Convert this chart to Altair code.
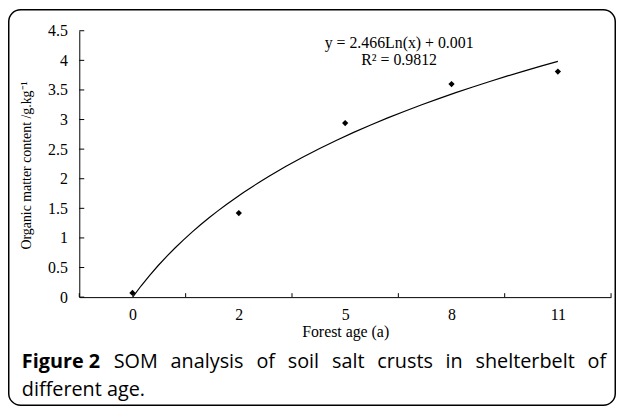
import altair as alt
import pandas as pd

# ---- data ----
ages = ["0", "2", "5", "8", "11"]          # x categories (forest age, a)
som = [0.07, 1.42, 2.94, 3.60, 3.81]       # organic matter content, g/kg
y_ticks = [0, 0.5, 1, 1.5, 2, 2.5, 3, 3.5, 4, 4.5]
equation = ["y = 2.466Ln(x) + 0.001", "R\u00b2 = 0.9812"]

idx = list(range(1, len(ages) + 1))
df = pd.DataFrame({"xi": idx, "age": ages, "som": som})
bounds = pd.DataFrame({"xi": [i + 0.5 for i in range(0, len(ages) + 1)]})
yt = pd.DataFrame({"som": y_ticks})

SERIF = "Liberation Serif"
W, H = 537, 269

label_expr = "[" + ",".join("'%s'" % a for a in ages) + "][datum.value - 1]"

xscale = alt.Scale(domain=[0.5, len(ages) + 0.5], nice=False, zero=False)
yscale = alt.Scale(domain=[0, 4.5], nice=False)

x_axis = alt.Axis(values=idx, labelExpr=label_expr, ticks=False, grid=False,
                  domainColor="black", domainWidth=1, labelFont=SERIF,
                  labelFontSize=16, labelColor="black", labelPadding=10,
                  title="Forest age (a)", titleFont=SERIF, titleFontSize=16,
                  titleFontWeight="normal", titleColor="black", titlePadding=1)
y_axis = alt.Axis(values=y_ticks, format=".1~f", ticks=False, grid=False,
                  domainColor="black", domainWidth=1, labelFont=SERIF,
                  labelFontSize=16, labelColor="black", labelPadding=12,
                  title=None)

X = alt.X("xi:Q", scale=xscale, axis=x_axis)
Y = alt.Y("som:Q", scale=yscale, axis=y_axis)

base = alt.Chart(df)

points = base.mark_point(shape="diamond", filled=True, color="black",
                         size=40, opacity=1).encode(x=X, y=Y)

trend = base.transform_regression("xi", "som", method="log").mark_line(
    color="black", strokeWidth=1.2).encode(x=X, y=Y)

yticks = alt.Chart(yt).mark_rule(color="black", strokeWidth=1).encode(
    y=Y, x=alt.value(0), x2=alt.value(5))

xticks = alt.Chart(bounds).mark_rule(color="black", strokeWidth=1).encode(
    x=X, y=alt.value(H), y2=alt.value(H - 4))

one = alt.Data(values=[{}])

frame = alt.Chart(one).mark_rect(filled=False, stroke="black", strokeWidth=1.5,
                                 cornerRadius=12).encode(
    x=alt.value(-71.25), x2=alt.value(541.25),
    y=alt.value(-21.25), y2=alt.value(378.25),
)

ytitle = alt.Chart(one).mark_text(text="Organic matter content /g.kg\u207b\u00b9",
                                  font=SERIF, fontSize=14, angle=270,
                                  color="black").encode(
    x=alt.value(-53), y=alt.value(136))

eq1 = alt.Chart(one).mark_text(text=equation[0], font=SERIF, fontSize=16,
                               color="black").encode(x=alt.value(323), y=alt.value(12))
eq2 = alt.Chart(one).mark_text(text=equation[1], font=SERIF, fontSize=16,
                               color="black").encode(x=alt.value(323), y=alt.value(30))

# caption (justified first line)
cap_words = ["Figure 2", "SOM", "analysis", "of", "soil", "salt", "crusts",
             "in", "shelterbelt", "of"]
cap_x = [22, 114.7, 172.2, 258.9, 290.5, 335.2, 380.9, 449.9, 480.1, 593.2]
cap_layers = []
for i, (w, px) in enumerate(zip(cap_words, cap_x)):
    cap_layers.append(alt.Chart(one).mark_text(
        text=w, font="Open Sans", fontSize=20, align="left", baseline="middle",
        fontWeight="bold" if i == 0 else "normal", color="black").encode(
        x=alt.value(px - 80), y=alt.value(364 - 29)))
cap_layers.append(alt.Chart(one).mark_text(
    text="different age.", font="Open Sans", fontSize=20, align="left",
    baseline="middle", color="black").encode(
    x=alt.value(22 - 80), y=alt.value(392 - 29)))

chart = alt.layer(points, trend, yticks, xticks, frame, ytitle, eq1, eq2,
                  *cap_layers).properties(
    width=W, height=H,
    padding={"left": 72, "top": 21, "right": 5, "bottom": 110},
    autosize="none", background="white",
).configure_view(stroke=None)

chart.save("out.html", embed_options={"renderer": "svg", "actions": False})
